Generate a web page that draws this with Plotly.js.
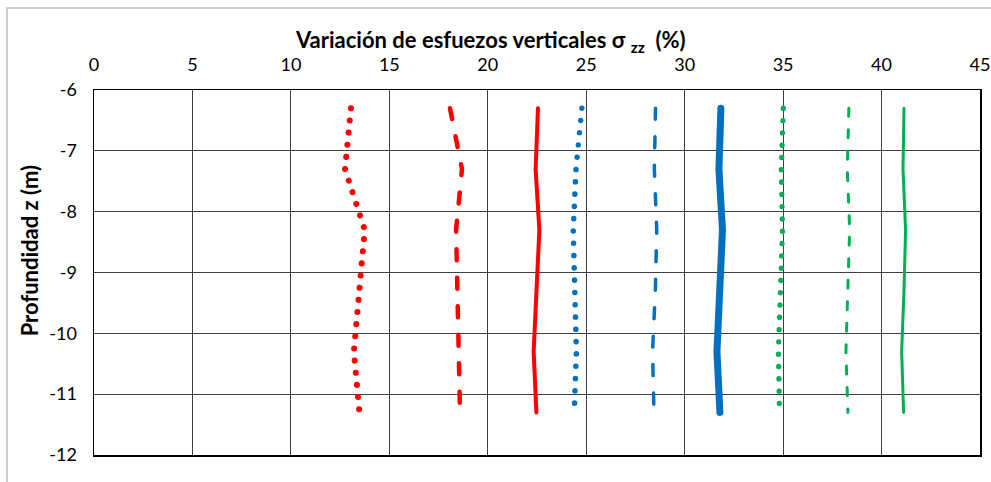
<!DOCTYPE html>
<html>
<head>
<meta charset="utf-8">
<script src="https://cdn.plot.ly/plotly-3.0.1.min.js"></script>
<style>
  body { margin: 0; background: #fff; }
  #frame { position: absolute; left: 6px; top: 7px; width: 990px; height: 480px;
           border-left: 2px solid #d0d0d0; border-top: 2px solid #d0d0d0; }
  #chart { position: absolute; left: 0; top: 0; width: 991px; height: 482px; }
</style>
</head>
<body>
<div id="frame"></div>
<div id="chart"></div>
<script>
// depth (m) of each computed point
const depth = [-6.3, -7.3, -8.3, -9.3, -10.3, -11.3];

// variation of vertical stress (%) for each curve
const redDot   = [13.05, 12.75, 13.75, 13.47, 13.2, 13.48];
const redDash  = [18.08, 18.69, 18.39, 18.44, 18.5, 18.59];
const redSolid = [22.55, 22.43, 22.62, 22.48, 22.33, 22.47];
const blueDot   = [24.78, 24.48, 24.34, 24.41, 24.5, 24.39];
const blueDash  = [28.52, 28.46, 28.58, 28.51, 28.37, 28.44];
const blueSolid = [31.84, 31.74, 31.92, 31.78, 31.64, 31.79];
const greenDot   = [35.01, 34.91, 34.97, 34.87, 34.76, 34.82];
const greenDash  = [38.34, 38.26, 38.38, 38.29, 38.19, 38.29];
const greenSolid = [41.14, 41.09, 41.22, 41.14, 41.02, 41.12];

const xTicks = [0, 5, 10, 15, 20, 25, 30, 35, 40, 45];
const yTicks = [-6, -7, -8, -9, -10, -11, -12];

const xTitle = 'Variación de esfuezos verticales σ <sub>zz</sub>  (%)';
const yTitle = 'Profundidad z (m)';

const red = '#ff0000', blue = '#0070c0', green = '#00b050';

function curve(x, color, width, dash) {
  return {
    x: x, y: depth, type: 'scatter', mode: 'lines',
    line: { color: color, width: width, dash: dash },
    hoverinfo: 'skip', showlegend: false
  };
}

const traces = [
  curve(redDot, red, 6, '0.1px,12.1px'),
  curve(redDash, red, 4.5, '11px,17.5px'),
  curve(redSolid, red, 4, 'solid'),
  curve(blueDot, blue, 5.5, '0.1px,12.2px'),
  curve(blueDash, blue, 3.5, '11px,17.5px'),
  curve(blueSolid, blue, 7, 'solid'),
  curve(greenDot, green, 5.3, '0.1px,12.2px'),
  curve(greenDash, green, 3, '8px,13.5px'),
  curve(greenSolid, green, 3, 'solid')
];

const font = 'Lato, "Open Sans", sans-serif';
const titleFont = { family: font, size: 22, color: '#000', weight: 700 };

const layout = {
  width: 991, height: 482,
  margin: { l: 94, r: 11, t: 90, b: 27 },
  paper_bgcolor: 'rgba(0,0,0,0)',
  plot_bgcolor: '#fff',
  font: { family: font, size: 18, color: '#000' },
  xaxis: {
    side: 'top', range: [0, 45],
    tickvals: xTicks, ticktext: xTicks.map(String),
    ticks: '', ticklabelstandoff: 10,
    showgrid: true, gridcolor: '#404040', gridwidth: 1,
    showline: true, mirror: true, linecolor: '#000', linewidth: 1.5,
    zeroline: false
  },
  yaxis: {
    range: [-12, -6],
    tickvals: yTicks, ticktext: yTicks.map(String),
    ticks: '', ticklabelstandoff: 12,
    showgrid: true, gridcolor: '#404040', gridwidth: 1,
    showline: true, mirror: true, linecolor: '#000', linewidth: 1.5,
    zeroline: false
  },
  annotations: [
    { text: xTitle, xref: 'paper', yref: 'paper', x: 0.448, y: 1.135,
      xanchor: 'center', yanchor: 'middle', showarrow: false, font: titleFont },
    { text: yTitle, xref: 'paper', yref: 'paper', x: -0.0725, y: 0.56,
      xanchor: 'center', yanchor: 'middle', showarrow: false, textangle: -90, font: titleFont }
  ]
};

Plotly.newPlot('chart', traces, layout, { staticPlot: true }).then(function () {
  document.querySelectorAll('.scatterlayer .js-line').forEach(function (p) {
    p.style.strokeLinecap = 'round';
    p.style.strokeLinejoin = 'round';
  });
});
</script>
</body>
</html>
